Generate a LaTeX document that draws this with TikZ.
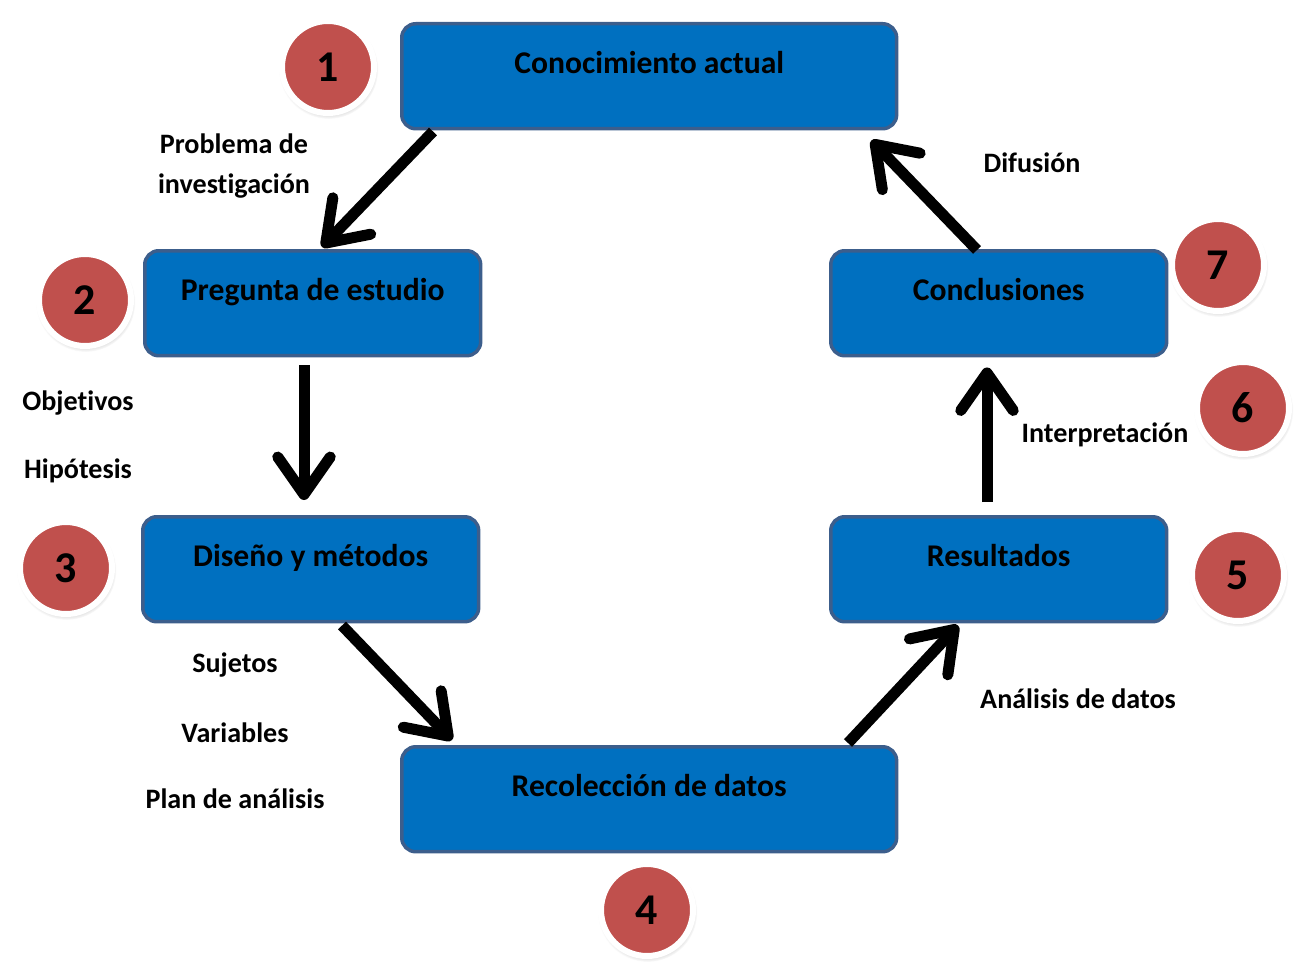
\documentclass[tikz,border=0pt]{standalone}
\usepackage{fontspec}
\setmainfont[RawFeature=-liga]{Carlito}
\usepackage{tikz}
\usetikzlibrary{arrows.meta,calc,shadows}
\definecolor{azulcaja}{HTML}{0070C0}
\definecolor{bordecaja}{HTML}{3C5E8C}
\definecolor{rojonum}{HTML}{C0504D}

\begin{document}
\begin{tikzpicture}[x=0.02cm,y=-0.02cm,
		caja/.style={draw=bordecaja,line width=0.07cm,fill=azulcaja,rounded corners=0.28cm,
			minimum width=6.72cm,inner ysep=0pt,text height=1.0cm,text depth=1.1cm,
			anchor=north west,font=\fontsize{18}{22}\selectfont\bfseries},
		num/.style={circle,fill=rojonum,draw=white,line width=0.12cm,minimum size=1.84cm,
			inner sep=0pt,font=\fontsize{25}{28}\selectfont\bfseries,
			circular drop shadow={shadow xshift=0.3pt,shadow yshift=-1.2pt,shadow scale=1.08,opacity=0.4}},
		flecha/.style={line width=0.22cm,-{Straight Barb[length=0.75cm,width=1.05cm,round]}},
		etiq/.style={align=center,font=\fontsize{16}{22.7}\selectfont\bfseries}]
			\useasboundingbox (0,0) rectangle (1294,966);
			% cajas
			\node[caja,minimum width=9.9cm] (conoc) at (400,22) {Conocimiento actual};
			\node[caja] (preg) at (143,249) {Pregunta de estudio};
			\node[caja] (dise) at (141,515) {Diseño y métodos};
			\node[caja,minimum width=9.9cm] (recol) at (400,745) {Recolección de datos};
			\node[caja] (result) at (829,515) {Resultados};
			\node[caja] (concl) at (829,249) {Conclusiones};
			% flechas
			\draw[flecha] ($(conoc.south west)+(33,1)$) -- ($(preg.north west)+(179,-2)$);
			\draw[flecha] ($(preg.south west)+(161,8)$) -- ($(dise.north west)+(163,-15)$);
			\draw[flecha] ($(dise.south west)+(201,2)$) -- ($(recol.north west)+(52,-5)$);
			\draw[flecha] ($(recol.north west)+(448,-2)$) -- ($(result.south west)+(129,2)$);
			\draw[flecha] ($(result.north west)+(158,-13)$) -- ($(concl.south west)+(158,10)$);
			\draw[flecha] ($(concl.north west)+(148,1)$) -- ($(conoc.south east)+(-27,10)$);
			% etiquetas
			\node[etiq] (probl) at (234,166) {Problema de\\investigación};
			\node[etiq] (objet) at (78,403) {Objetivos};
			\node[etiq] (hipot) at (78,471) {Hipótesis};
			\node[etiq] (sujet) at (235,665) {Sujetos};
			\node[etiq] (varia) at (235,733) {Variables};
			\node[etiq] (plan) at (235,799) {Plan de análisis};
			\node[etiq] (difus) at (1032,163) {Difusión};
			\node[etiq] (inter) at (1105,435) {Interpretación};
			\node[etiq] (anali) at (1078,699) {Análisis de datos};
			% numeros
			\foreach \Nombre/\X/\Y in {1/328/67,2/85/300,3/66/568,4/647/910,5/1238/575,6/1243/408,7/1218/265}
				\node[num] (n\Nombre) at (\X,\Y) {\Nombre};
		\end{tikzpicture}
\end{document}
